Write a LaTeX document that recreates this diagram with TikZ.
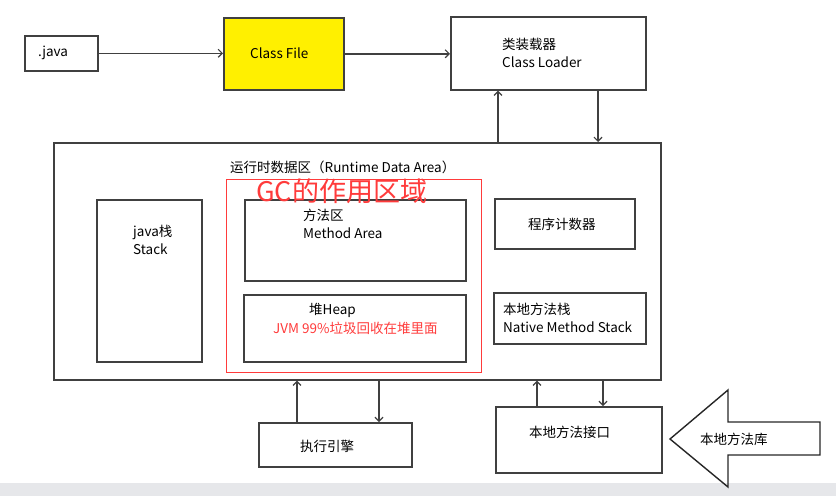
\documentclass[tikz,border=0pt]{standalone}
\usepackage{fontspec}
\setmainfont{Noto Sans CJK SC}
\usetikzlibrary{arrows.meta}
\definecolor{edge}{HTML}{404040}
\definecolor{gcred}{HTML}{FF3B3B}
\definecolor{cfyellow}{HTML}{FFF000}
\definecolor{band}{HTML}{E6E7EA}
\begin{document}
\begin{tikzpicture}[x=1pt,y=-1pt,
 box/.style={draw=edge, line width=1.6pt, inner sep=0pt, anchor=north west},
 lbl/.style={font=\fontsize{13.5}{18}\selectfont, inner sep=0pt, align=left, anchor=west},
 link/.style={draw=edge, line width=1.4pt, -{Straight Barb[length=4pt,width=8pt,line width=1.2pt]}}
]
\useasboundingbox (0,0) rectangle (836,496);
\fill[band] (0,483) rectangle (836,496);
% boxes
\node[box, minimum width=73pt, minimum height=35pt] (java) at (24,35) {};
\node[box, fill=cfyellow, minimum width=120pt, minimum height=72pt] (cf) at (223,17) {};
\node[box, minimum width=195pt, minimum height=73pt] (cl) at (450,16) {};
\node[box, minimum width=607pt, minimum height=237pt] (rt) at (53,142) {};
\node[box, draw=gcred, line width=1.3pt, minimum width=255pt, minimum height=193pt] (gc) at (226,179) {};
\node[box, minimum width=105pt, minimum height=162pt] (stk) at (96,199) {};
\node[box, minimum width=221pt, minimum height=81pt] (ma) at (244,199) {};
\node[box, minimum width=222pt, minimum height=67pt] (hp) at (243,294) {};
\node[box, minimum width=140pt, minimum height=50pt] (pc) at (494,198) {};
\node[box, minimum width=152pt, minimum height=51pt] (nms) at (493,292) {};
\node[box, minimum width=153pt, minimum height=44pt] (ex) at (258,422) {};
\node[box, minimum width=166pt, minimum height=66pt] (ni) at (495,406) {};
\draw[line width=1.4pt, draw=black!85] (670,439) -- (728,390) -- (728,422) -- (820,422) -- (820,455) -- (728,455) -- (728,487) -- cycle;
% texts
\node[lbl] (tjava) at (38,53) {.java};
\node[lbl] (tcf) at (250,53) {Class File};
\node[lbl] (tcl) at (502,53) {类装载器\\Class Loader};
\node[lbl] (trt) at (230,167) {运行时数据区（Runtime Data Area）};
\node[lbl, font=\fontsize{27}{30}\selectfont, text=gcred] (tgc) at (256,191) {GC的作用区域};
\node[lbl] (tstk) at (133,240) {java栈\\Stack};
\node[lbl] (tma) at (303,224) {方法区\\Method Area};
\node[lbl] (thp) at (309,310) {堆Heap};
\node[lbl, text=gcred] (tjvm) at (273,328) {JVM 99\%垃圾回收在堆里面};
\node[lbl] (tpc) at (528,224) {程序计数器};
\node[lbl] (tnms) at (503,318) {本地方法栈\\Native Method Stack};
\node[lbl] (tex) at (300,446) {执行引擎};
\node[lbl] (tni) at (529,432) {本地方法接口};
\node[lbl] (tlib) at (700,439) {本地方法库};
% connectors
\coordinate (u1) at (498,0);
\coordinate (d1) at (598,0);
\coordinate (u2) at (297,0);
\coordinate (d2) at (379,0);
\coordinate (u3) at (537,0);
\coordinate (d3) at (603,0);
\draw[link] (java.east) -- (java.east -| cf.west);
\draw[link] (cf.east) -- (cf.east -| cl.west);
\draw[link] (u1 |- rt.north) -- (u1 |- cl.south);
\draw[link] (d1 |- cl.south) -- (d1 |- rt.north);
\draw[link] (u2 |- ex.north) -- (u2 |- rt.south);
\draw[link] (d2 |- rt.south) -- (d2 |- ex.north);
\draw[link] (u3 |- ni.north) -- (u3 |- rt.south);
\draw[link] (d3 |- rt.south) -- (d3 |- ni.north);
\end{tikzpicture}
\end{document}
